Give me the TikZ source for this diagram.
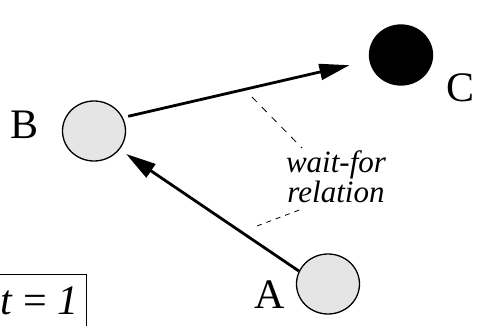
\documentclass[tikz,border=0pt]{standalone}
\usepackage{fontspec}
\setmainfont{Liberation Serif}
\usetikzlibrary{arrows.meta,shapes.geometric}
\definecolor{procgray}{HTML}{E5E5E5}
\tikzset{
  proc/.style={ellipse, draw=black, line width=1.3pt, fill=procgray,
    minimum width=63pt, minimum height=60pt, inner sep=0pt},
  held/.style={proc, fill=black},
  plabel/.style={inner sep=0pt, font=\fontsize{42}{50}\selectfont},
  relabel/.style={inner sep=0pt, anchor=base, font=\fontsize{31}{30}\selectfont\itshape},
  waitarrow/.style={line width=2.8pt, -{Triangle[length=30pt,width=16pt]}},
  guide/.style={line width=0.8pt}
}
\begin{document}
\begin{tikzpicture}[x=1pt,y=-1pt]
  \useasboundingbox (0,0) rectangle (483,326);
  \clip (0,0) rectangle (483,326);

  % processes
  \node[proc] (B) at (94,131) {};
  \node[held] (C) at (401,55) {};
  \node[proc] (A) at (328,284) {};

  \node[plabel] (Bl) at (24.5,125) {B};
  \node[plabel] (Cl) at (461,87.5) {C};
  \node[plabel] (Al) at (270,295) {A};

  % wait-for edges
  \draw[waitarrow, shorten <=5.5pt, shorten >=20.5pt] (B.25) -- (C.190);
  \draw[waitarrow, shorten >=8pt] (A.156) -- (B.-36);

  % annotation
  \node[relabel] (rel1) at (336,172.7) {wait-for};
  \node[relabel] (rel2) at (336,203) {relation};
  \coordinate (g1s) at (252,97);
  \coordinate (g1e) at (302,148);
  \coordinate (g2s) at (257,226);
  \coordinate (g2e) at (302,209);
  \draw[guide, dash pattern=on 7pt off 7pt] (g1s) -- (g1e);
  \draw[guide, dash pattern=on 5pt off 5pt] (g2s) -- (g2e);

  % time stamp
  \draw[line width=1pt] (86,340) |- (-10,275);
  \node[plabel, anchor=base] (tl) at (39.5,315) {\itshape t\/ \upshape= \itshape 1};
\end{tikzpicture}
\end{document}
